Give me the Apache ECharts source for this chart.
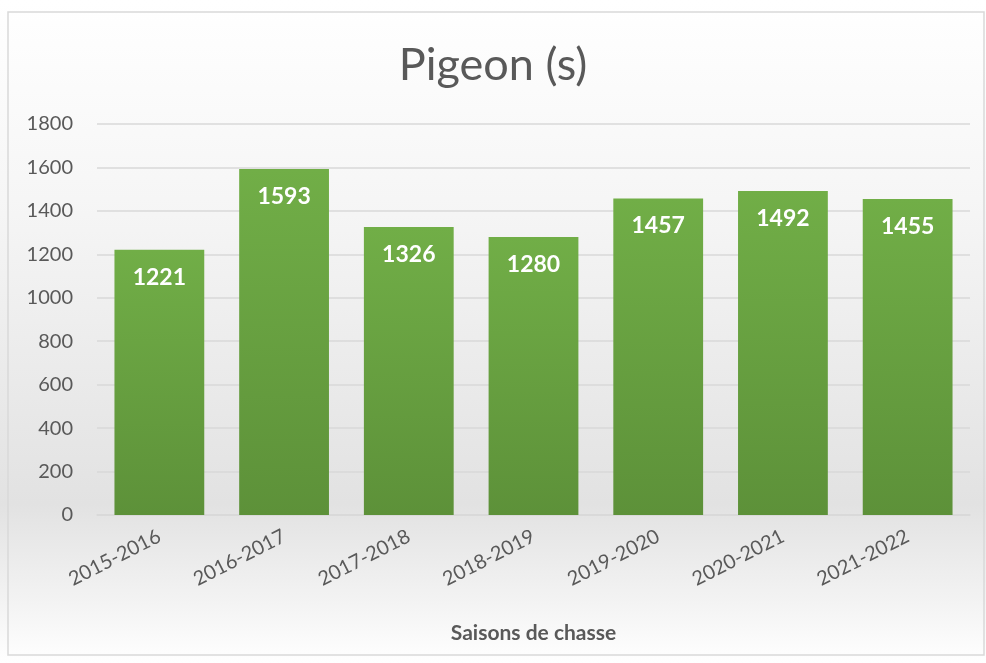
<!DOCTYPE html>
<html>
<head>
<meta charset="utf-8">
<script src="https://cdn.jsdelivr.net/npm/echarts@6/dist/echarts.min.js"></script>
<style>
  html, body { margin: 0; padding: 0; background: #fff; }
  #main { width: 986px; height: 663px; }
</style>
</head>
<body>
<div id="main"></div>
<script>
// saisons et valeurs
var saisons = ['2015-2016', '2016-2017', '2017-2018', '2018-2019', '2019-2020', '2020-2021', '2021-2022'];
var pigeons = [1221, 1593, 1326, 1280, 1457, 1492, 1455];
var yTicks = [0, 200, 400, 600, 800, 1000, 1200, 1400, 1600, 1800];

var font = 'Lato, "Open Sans", sans-serif';
var myChart = echarts.init(document.getElementById('main'));

myChart.setOption({
	backgroundColor: {
		type: 'linear', x: 0, y: 0, x2: 0, y2: 1,
		colorStops: [
			{ offset: 0, color: '#ffffff' },
			{ offset: 0.3, color: '#f6f6f6' },
			{ offset: 0.76, color: '#e2e2e2' },
			{ offset: 0.9, color: '#f2f2f2' },
			{ offset: 1, color: '#ffffff' }
		]
	},
	graphic: [{
		type: 'rect',
		shape: { x: 8, y: 12, width: 976, height: 643 },
		style: { fill: 'none', stroke: '#d9d9d9', lineWidth: 1.5 },
		z: 100
	}],
	title: {
		text: 'Pigeon (s)',
		left: 'center',
		top: 38,
		textStyle: { fontFamily: font, fontSize: 45, fontWeight: 'normal', color: '#595959' }
	},
	grid: { left: 97, right: 16, top: 124, bottom: 148 },
	xAxis: {
		type: 'category',
		data: saisons,
		name: 'Saisons de chasse',
		nameLocation: 'middle',
		nameGap: 108,
		nameTextStyle: { fontFamily: font, fontSize: 21, fontWeight: 'bold', color: '#595959' },
		axisLine: { lineStyle: { color: '#d9d9d9', width: 1.5 } },
		axisTick: { show: false },
		axisLabel: { rotate: 27, fontFamily: font, fontSize: 20, color: '#595959', margin: 20 }
	},
	yAxis: {
		type: 'value',
		min: yTicks[0],
		max: yTicks[yTicks.length - 1],
		interval: 200,
		axisLine: { show: false },
		axisTick: { show: false },
		axisLabel: {
			fontFamily: font, fontSize: 20, color: '#595959', margin: 24,
			formatter: function (v) { return String(v); }
		},
		splitLine: { lineStyle: { color: '#d9d9d9', width: 1.5 } }
	},
	series: [{
		type: 'bar',
		data: pigeons,
		barCategoryGap: '28%',
		itemStyle: {
			color: {
				type: 'linear', x: 0, y: 0, x2: 0, y2: 1,
				colorStops: [
					{ offset: 0, color: '#71ae47' },
					{ offset: 1, color: '#5d9139' }
				]
			}
		},
		label: {
			show: true,
			position: 'insideTop',
			distance: 16,
			fontFamily: font,
			fontSize: 23,
			fontWeight: 'bold',
			color: '#ffffff'
		}
	}]
});
</script>
</body>
</html>
